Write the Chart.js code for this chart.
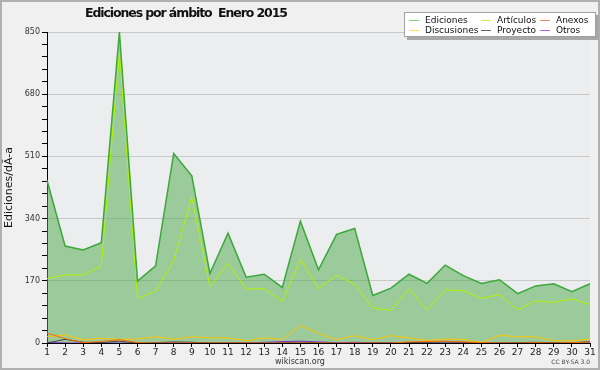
<!DOCTYPE html>
<html>
<head>
<meta charset="utf-8">
<title>Ediciones por ámbito Enero 2015</title>
<script src="https://cdn.jsdelivr.net/npm/chart.js@4.4.1/dist/chart.umd.min.js"></script>
<style>
  html, body { margin: 0; padding: 0; background: #f0f0f0; }
  #wrap { position: relative; width: 600px; height: 370px; overflow: hidden; font-family: 'DejaVu Sans', sans-serif; }
  #chart { position: absolute; left: 0; top: 0; }
  #title { position: absolute; left: 85px; top: 5px; font-weight: bold; font-size: 12.5px; letter-spacing: -1.1px; color: #111; white-space: pre; }
  #legend { position: absolute; left: 404px; top: 12px; width: 190px; height: 23px; background: #fff; border: 1px solid #a0a0a0; box-shadow: 3px 3px 0 #a8a8a8; }
  #legend .item { position: absolute; font-size: 9px; line-height: 10px; color: #111; white-space: nowrap; }
  #legend .sw { display: inline-block; width: 10px; height: 1px; vertical-align: middle; margin-right: 6px; }
  #site { position: absolute; left: 0; width: 600px; top: 357px; text-align: center; font-size: 8px; color: #333; }
  #lic { position: absolute; right: 10px; top: 358px; font-size: 6px; color: #444; }
</style>
</head>
<body>
<div id="wrap">
  <canvas id="chart" width="600" height="370"></canvas>
  <div id="title">Ediciones por ámbito  Enero 2015</div>
  <div id="legend"></div>
  <div id="site">wikiscan.org</div>
  <div id="lic">CC BY-SA 3.0</div>
</div>
<script>
// days of January 2015
const days = ['1','2','3','4','5','6','7','8','9','10','11','12','13','14','15','16',
  '17','18','19','20','21','22','23','24','25','26','27','28','29','30','31'];

const ediciones   = [445, 265, 254, 274, 850, 169, 211, 518, 457, 190, 300, 180, 188, 152, 333, 200,
  297, 313, 130, 150, 188, 163, 213, 184, 163, 173, 135, 156, 162, 140, 162];
const articulos   = [176, 186, 186, 210, 796, 121, 142, 225, 398, 154, 218, 148, 148, 114, 229, 149,
  185, 160, 96, 89, 148, 91, 145, 143, 122, 132, 91, 115, 111, 121, 105];
const anexos      = [27, 12, 1, 4, 9, 1, 0, 0, 0, 0, 0, 0, 0, 0, 0, 0,
  0, 0, 0, 0, 3, 4, 5, 3, 1, 0, 0, 1, 0, 1, 3];
const discusiones = [17, 22, 9, 13, 10, 11, 17, 10, 17, 14, 14, 6, 14, 10, 48, 26,
  9, 20, 9, 20, 14, 7, 11, 10, 1, 21, 17, 17, 6, 6, 11];
const proyecto    = [0, 10, 2, 1, 5, 0, 1, 3, 2, 0, 0, 0, 0, 1, 2, 1,
  0, 0, 0, 0, 1, 2, 3, 2, 0, 0, 1, 2, 1, 0, 4];
const otros       = [2, 0, 0, 0, 0, 0, 0, 0, 0, 0, 0, 0, 2, 4, 5, 3,
  1, 2, 1, 1, 0, 0, 0, 0, 0, 0, 0, 0, 0, 0, 0];

const yMax = 850;
const yMajor = 170;
const yMinor = 34;

const FONT = "'DejaVu Sans', sans-serif";

function line(label, data, color, legendColor, width) {
  return {
    label, data,
    borderColor: color,
    borderWidth: width || 1,
    pointRadius: 0,
    tension: 0,
    fill: false,
    legendColor
  };
}

const datasets = [
  Object.assign(line('Ediciones', ediciones, '#3aa83a', '#88cc88', 1.5), {
    fill: 'origin',
    backgroundColor: 'rgba(74,169,71,0.5)'
  }),
  line('Artículos', articulos, '#b4f000', '#ccee55'),
  line('Anexos', anexos, '#ff6a00', '#ee8855'),
  line('Discusiones', discusiones, '#ffc400', '#ffdd55'),
  line('Proyecto', proyecto, '#444444', '#666666'),
  line('Otros', otros, '#8a2be2', '#aa66ee')
];

// page + plot background
const background = {
  id: 'background',
  beforeDraw(chart) {
    const { ctx, chartArea: a, width, height } = chart;
    ctx.save();
    ctx.fillStyle = '#f0f0f0';
    ctx.fillRect(0, 0, width, height);
    ctx.fillStyle = '#ecedef';
    ctx.fillRect(a.left, a.top, a.right - a.left, a.bottom - a.top);
    ctx.strokeStyle = '#b0b0b0';
    ctx.lineWidth = 2;
    ctx.strokeRect(1, 1, width - 2, height - 2);
    ctx.restore();
  }
};

new Chart(document.getElementById('chart').getContext('2d'), {
  type: 'line',
  data: { labels: days, datasets },
  options: {
    responsive: false,
    animation: false,
    layout: { padding: { top: 32, right: 10, left: 0, bottom: 0 } },
    plugins: {
      legend: { display: false },
      tooltip: { enabled: false },
      filler: { drawTime: 'beforeDatasetsDraw', propagate: false }
    },
    scales: {
      x: {
        type: 'category',
        offset: false,
        grid: { display: true, drawOnChartArea: false, drawTicks: true, tickLength: 4, tickColor: '#000' },
        border: { display: true, color: '#000', width: 1 },
        ticks: { font: { family: FONT, size: 9 }, color: '#222', padding: 0, maxRotation: 0, autoSkip: false },
        afterFit(scale) { scale.height = 27; }
      },
      y: {
        min: 0,
        max: yMax,
        grid: {
          drawTicks: true,
          tickLength: 5,
          tickColor: '#000',
          color: (c) => (c.tick && c.tick.value > 0 && c.tick.value % yMajor === 0) ? '#c9c9c9' : 'rgba(0,0,0,0)'
        },
        border: { display: true, color: '#000', width: 1 },
        ticks: {
          stepSize: yMinor,
          autoSkip: false,
          padding: 2,
          font: { family: FONT, size: 8 },
          color: '#333',
          callback: (v) => (v % yMajor === 0 ? String(v) : '')
        },
        title: {
          display: true,
          text: 'Ediciones/dÃ-a',
          font: { family: FONT, size: 11 },
          color: '#111',
          padding: { top: 3, bottom: 0 }
        },
        afterFit(scale) { scale.width = 47; }
      }
    }
  },
  plugins: [background]
});

// legend box: 3 columns x 2 rows
const legend = document.getElementById('legend');
const colX = [4, 76, 135];
const rowY = [2, 12];
datasets.forEach((ds, i) => {
  const item = document.createElement('div');
  item.className = 'item';
  item.style.left = colX[i % 3] + 'px';
  item.style.top = rowY[Math.floor(i / 3)] + 'px';
  const sw = document.createElement('span');
  sw.className = 'sw';
  sw.style.background = ds.legendColor;
  item.appendChild(sw);
  item.appendChild(document.createTextNode(ds.label));
  legend.appendChild(item);
});
</script>
</body>
</html>
